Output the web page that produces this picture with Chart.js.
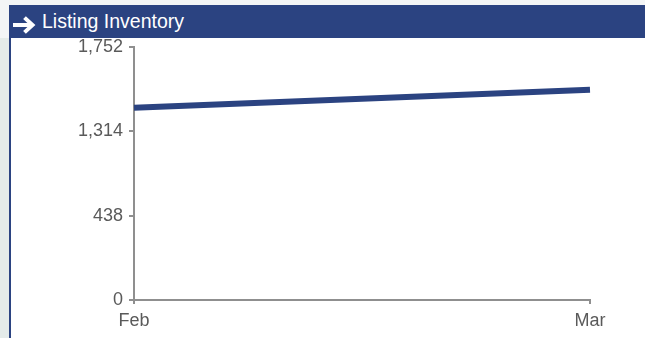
<!DOCTYPE html>
<html>
<head>
<meta charset="utf-8">
<script src="https://cdn.jsdelivr.net/npm/chart.js@4/dist/chart.umd.min.js"></script>
<style>
  html, body { margin: 0; padding: 0; }
  body { width: 645px; height: 338px; background: #f3f5f6; position: relative; overflow: hidden; font-family: "Liberation Sans", Arial, sans-serif; }
  #strip { position: absolute; left: 0; top: 38px; width: 9px; height: 300px; background: #e4ebe9; }
  #header { position: absolute; left: 9px; top: 5px; width: 636px; height: 33px; background: #2b4381; }
  #header svg { position: absolute; left: 3px; top: 11px; }
  #header span { position: absolute; left: 33px; top: 5px; color: #ffffff; font-size: 19.5px; line-height: 22px; white-space: nowrap; }
  #lborder { position: absolute; left: 9px; top: 38px; width: 2px; height: 300px; background: #2b4381; }
  #panel { position: absolute; left: 11px; top: 38px; width: 634px; height: 300px; background: #ffffff; }
  #wrap { position: absolute; left: 11px; top: 30px; width: 634px; height: 308px; }
</style>
</head>
<body>
<div id="strip"></div>
<div id="header">
  <svg width="24" height="18" viewBox="0 0 24 18">
    <path d="M1 9 H20 M12.5 1.6 L20.5 9 L12.5 16.4" fill="none" stroke="#ffffff" stroke-width="4" stroke-linecap="butt" stroke-linejoin="miter"/>
  </svg>
  <span>Listing Inventory</span>
</div>
<div id="lborder"></div>
<div id="panel"></div>
<div id="wrap"><canvas id="c" width="634" height="308"></canvas></div>
<script>
const categories = ['Feb', 'Mar'];
const inventory = [1330, 1455];
const yMax = 1752;
const yTickLabels = ['0', '438', '1,314', '1,752'];

const axisColor = '#8f8f8f';
const tickFont = { family: '"Liberation Sans", Arial, sans-serif', size: 18 };

new Chart(document.getElementById('c'), {
  type: 'line',
  data: {
    labels: categories,
    datasets: [{
      data: inventory,
      borderColor: '#2b4381',
      borderWidth: 6,
      pointRadius: 0,
      tension: 0,
      fill: false,
      borderCapStyle: 'butt'
    }]
  },
  options: {
    responsive: false,
    animation: false,
    devicePixelRatio: 1,
    layout: { padding: { top: 0, right: 55, left: 0, bottom: 0 } },
    plugins: { legend: { display: false }, tooltip: { enabled: false } },
    scales: {
      x: {
        offset: false,
        grid: { display: true, drawOnChartArea: false, drawTicks: true, tickLength: 4, color: axisColor, lineWidth: 2 },
        border: { display: true, color: axisColor, width: 2 },
        ticks: { color: '#5a5a5a', font: tickFont, padding: 6, maxRotation: 0, autoSkip: false },
        afterFit: (s) => { s.height = 38; }
      },
      y: {
        min: 0,
        max: yMax,
        afterBuildTicks: (s) => {
          const n = yTickLabels.length - 1;
          s.ticks = yTickLabels.map((_, i) => ({ value: yMax * i / n }));
        },
        grid: { display: true, drawOnChartArea: false, drawTicks: true, tickLength: 5, color: axisColor, lineWidth: 2 },
        border: { display: true, color: axisColor, width: 2 },
        ticks: {
          color: '#5a5a5a', font: tickFont, padding: 6,
          callback: (v, i) => yTickLabels[i]
        },
        afterFit: (s) => { s.width = 123; }
      }
    }
  }
});
</script>
</body>
</html>
